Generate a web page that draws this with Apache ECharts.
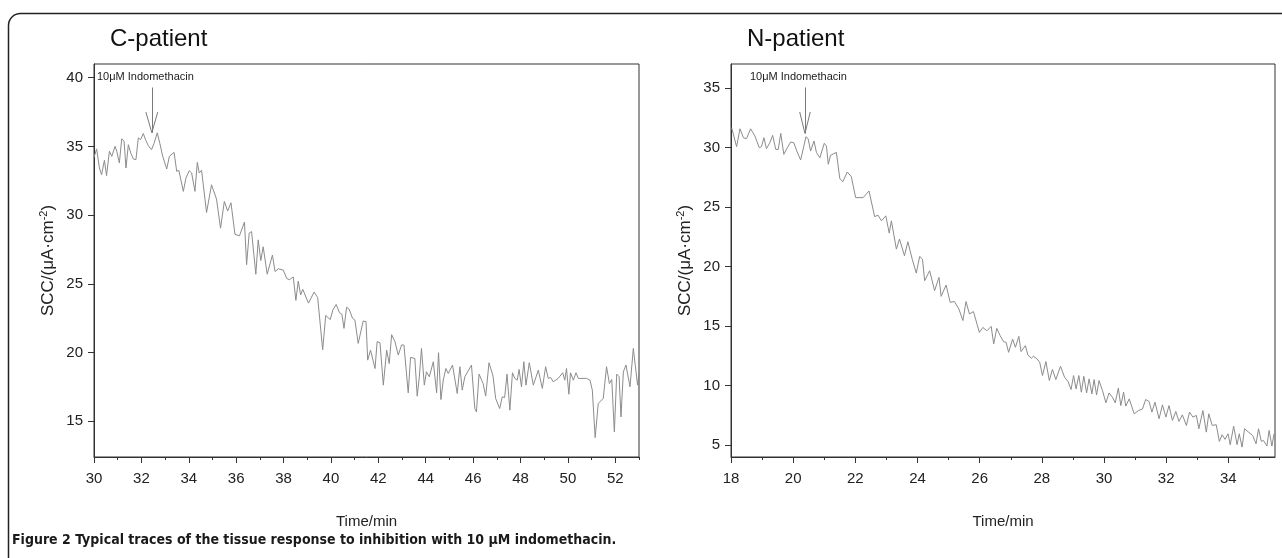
<!DOCTYPE html>
<html>
<head>
<meta charset="utf-8">
<script src="https://cdn.jsdelivr.net/npm/echarts@6/dist/echarts.min.js"></script>
<style>
html,body{margin:0;padding:0;background:#fff;}
#c{width:1282px;height:558px;}
</style>
</head>
<body>
<div id="c"></div>
<script>
// ---- C-patient trace (time in min, SCC in µA·cm^-2) ----
var leftTime = [30.0,30.11,30.23,30.32,30.44,30.53,30.65,30.75,30.89,30.96,31.07,31.17,31.27,31.35,31.45,31.55,31.66,31.77,31.87,31.97,32.08,32.19,32.29,32.43,32.53,32.67,32.78,32.9,32.97,33.07,33.18,33.38,33.49,33.58,33.77,33.88,34.02,34.12,34.26,34.36,34.44,34.54,34.75,34.96,35.17,35.34,35.5,35.64,35.78,35.95,36.14,36.35,36.44,36.55,36.65,36.83,36.93,37.04,37.14,37.31,37.53,37.64,37.78,37.99,38.13,38.24,38.41,38.52,38.62,38.72,38.81,39.05,39.29,39.44,39.65,39.78,39.85,39.97,40.08,40.22,40.36,40.46,40.55,40.66,40.77,40.91,41.01,41.15,41.36,41.48,41.55,41.67,41.86,41.95,42.07,42.21,42.35,42.46,42.56,42.7,42.84,42.98,43.08,43.26,43.36,43.54,43.64,43.73,43.82,43.94,44.03,44.15,44.32,44.46,44.54,44.64,44.74,44.85,44.95,45.13,45.33,45.44,45.54,45.65,45.93,46.07,46.14,46.25,46.42,46.53,46.67,46.84,46.95,47.12,47.23,47.33,47.43,47.55,47.66,47.76,47.86,47.94,48.04,48.14,48.23,48.37,48.54,48.75,48.92,49.06,49.17,49.27,49.38,49.59,49.78,49.87,49.94,50.04,50.11,50.23,50.34,50.44,50.79,50.93,51.03,51.15,51.28,51.49,51.63,51.75,51.85,51.96,52.06,52.16,52.24,52.34,52.45,52.62,52.76,52.94,53.0];
var leftSCC = [34.2,34.82,33.43,32.94,33.99,32.87,34.65,34.28,35.01,34.65,33.8,35.55,35.38,33.43,35.13,34.53,34.09,34.04,35.62,35.5,35.94,35.43,35.06,34.77,35.21,35.99,35.21,34.28,34.4,33.36,34.28,34.57,33.19,33.26,31.73,32.7,33.24,33.07,31.73,33.84,33.07,33.26,30.19,32.21,31.17,29.05,31.0,30.3,30.9,28.6,28.5,29.5,26.4,28.7,28.8,25.7,28.2,26.7,27.7,25.7,27.1,25.9,26.1,26.0,25.4,25.3,25.5,23.8,25.2,24.2,24.6,23.6,24.4,24.0,20.2,22.7,22.8,22.4,23.1,23.5,22.9,22.8,21.76,23.3,23.15,22.5,22.37,20.67,22.3,22.25,19.45,20.18,18.84,20.8,20.72,17.63,20.18,19.2,21.3,20.8,19.82,20.55,20.55,17.07,19.65,19.57,16.83,18.24,20.3,17.63,18.6,18.24,19.33,17.07,19.99,16.58,17.99,18.84,18.48,19.09,17.02,18.97,17.27,18.24,19.09,15.93,15.68,18.43,17.75,16.83,19.26,18.29,16.66,15.93,16.78,16.73,18.43,15.81,18.53,18.12,17.99,18.77,17.51,19.33,17.63,19.26,17.63,18.72,17.39,18.97,18.12,18.19,17.87,18.12,18.53,17.99,18.84,16.97,18.53,17.99,18.53,18.12,18.12,17.99,17.27,13.81,16.29,16.66,18.97,17.75,18.04,14.23,18.43,18.24,15.32,18.6,19.09,17.51,20.3,17.63,18.53];

// ---- N-patient trace ----
var rightTime = [18.02,18.18,18.29,18.4,18.5,18.63,18.77,18.91,18.98,19.06,19.14,19.25,19.34,19.44,19.52,19.6,19.7,19.81,19.92,20.02,20.13,20.24,20.34,20.41,20.48,20.56,20.67,20.75,20.86,21.0,21.07,21.13,21.2,21.39,21.5,21.6,21.74,21.87,22.01,22.25,22.44,22.62,22.73,22.84,22.98,23.09,23.16,23.32,23.42,23.58,23.69,23.83,23.96,24.07,24.16,24.23,24.39,24.55,24.69,24.76,24.92,25.05,25.19,25.33,25.46,25.56,25.67,25.8,25.99,26.1,26.23,26.37,26.45,26.55,26.66,26.77,26.85,26.93,27.06,27.15,27.26,27.33,27.47,27.55,27.66,27.73,27.84,27.93,28.02,28.13,28.24,28.34,28.45,28.6,28.73,28.84,28.94,29.02,29.1,29.19,29.27,29.35,29.44,29.52,29.61,29.68,29.76,29.84,29.95,30.06,30.16,30.27,30.36,30.46,30.54,30.63,30.7,30.81,30.97,31.11,31.24,31.34,31.45,31.54,31.64,31.77,31.88,31.99,32.09,32.2,32.31,32.41,32.52,32.65,32.75,32.86,32.97,33.05,33.18,33.29,33.37,33.48,33.61,33.71,33.8,33.89,33.99,34.06,34.17,34.28,34.35,34.44,34.52,34.65,34.78,34.89,34.97,35.06,35.13,35.24,35.31,35.4,35.47];
var rightSCC = [31.65,30.06,31.56,30.81,30.73,31.56,30.95,29.97,30.06,30.81,29.89,30.39,31.01,29.83,29.83,31.17,29.41,29.97,30.45,30.39,29.61,28.94,30.06,30.89,30.73,29.69,30.53,29.55,29.13,30.34,30.11,28.58,29.33,29.58,27.37,27.12,27.93,27.54,25.78,25.78,26.34,24.19,24.3,23.83,24.25,22.8,23.83,21.45,22.3,20.9,22.07,20.61,19.44,20.84,20.61,18.8,19.64,17.97,19.08,17.49,18.44,16.99,17.05,16.43,15.46,17.05,16.01,16.21,14.46,14.88,14.6,14.97,13.49,14.8,14.18,13.68,13.63,12.79,13.9,13.21,14.13,12.85,13.35,12.57,12.29,12.46,12.24,11.96,10.84,12.01,10.42,11.35,10.5,11.62,10.7,10.34,9.67,10.84,9.72,10.84,9.44,10.78,9.38,10.56,9.3,10.5,9.21,10.42,9.58,8.55,9.38,9.02,8.55,9.78,8.32,9.44,8.27,8.88,7.63,7.9,8.04,8.83,8.66,7.77,8.6,7.21,8.38,7.35,8.32,7.07,7.82,6.99,7.54,6.65,7.77,7.35,7.49,6.37,7.9,6.09,7.63,6.65,6.71,5.31,5.87,5.48,5.95,5.03,6.59,5.03,5.95,4.83,6.37,6.09,5.81,5.11,6.37,5.31,5.39,4.92,6.23,4.92,5.95];

// ---- tick labels ----
var leftXMajor = [30,32,34,36,38,40,42,44,46,48,50,52];
var leftXMinor = [31,33,35,37,39,41,43,45,47,49,51,53];
var leftYTicks = [15,20,25,30,35,40];
var rightXMajor = [18,20,22,24,26,28,30,32,34];
var rightXMinor = [19,21,23,25,27,29,31,33,35];
var rightYTicks = [5,10,15,20,25,30,35];

// ---- annotation: indomethacin addition arrows [time, top, tip] ----
var leftArrow = [32.44, 39.29, 36.0];
var rightArrow = [20.38, 35.03, 31.17];

var FONT = 'Liberation Sans, Arial, Helvetica, sans-serif';
var AX = '#333';

function pairs(t, v){ return t.map(function(x,i){ return [x, v[i]]; }); }

function arrowLines(a, dx, dy){
  return [
    [{coord:[a[0], a[1]]},{coord:[a[0], a[2]]}],
    [{coord:[a[0]-dx, a[2]+dy]},{coord:[a[0], a[2]]}],
    [{coord:[a[0]+dx, a[2]+dy]},{coord:[a[0], a[2]]}]
  ];
}

function majorX(grid, min, max, ticks){
  return {
    gridIndex: grid, type:'value', min:min, max:max, position:'bottom',
    axisLine:{show:true, lineStyle:{color:AX, width:1}},
    axisTick:{show:true, customValues:ticks, length:6, inside:false, lineStyle:{color:AX, width:1}},
    axisLabel:{customValues:ticks, fontSize:15, color:'#222', fontFamily:FONT, margin:14},
    splitLine:{show:false},
    name:'Time/min', nameLocation:'middle', nameGap:57,
    nameTextStyle:{fontSize:15, color:'#222', fontFamily:FONT}
  };
}
function minorX(grid, min, max, ticks){
  return {
    gridIndex: grid, type:'value', min:min, max:max, position:'bottom',
    axisLine:{show:false},
    axisTick:{show:true, customValues:ticks, length:3, inside:false, lineStyle:{color:AX, width:1}},
    axisLabel:{show:false},
    splitLine:{show:false}
  };
}
function yAx(grid, min, max, ticks){
  return {
    gridIndex: grid, type:'value', min:min, max:max,
    axisLine:{show:true, lineStyle:{color:AX, width:1}},
    axisTick:{show:true, customValues:ticks, length:6, inside:false, lineStyle:{color:AX, width:1}},
    axisLabel:{customValues:ticks, fontSize:15, color:'#222', fontFamily:FONT, margin:11},
    splitLine:{show:false},
    name:'SCC/(μA·cm{sup|-2})', nameLocation:'middle', nameGap:36, nameRotate:90,
    nameTextStyle:{fontSize:17, color:'#222', fontFamily:FONT,
      rich:{sup:{fontSize:11, color:'#222', fontFamily:FONT, padding:[0,0,9,0]}}}
  };
}

var chart = echarts.init(document.getElementById('c'), null, {renderer:'canvas'});
chart.setOption({
  animation:false,
  backgroundColor:'#fff',
  title:[
    {text:'C-patient', left:105, top:22, textStyle:{fontSize:24, fontWeight:'normal', color:'#111', fontFamily:FONT}},
    {text:'N-patient', left:742, top:22, textStyle:{fontSize:24, fontWeight:'normal', color:'#111', fontFamily:FONT}}
  ],
  grid:[
    {left:94, top:64, width:545, height:393, show:true, borderColor:AX, borderWidth:1, containLabel:false},
    {left:731, top:64, width:544, height:393, show:true, borderColor:AX, borderWidth:1, containLabel:false}
  ],
  xAxis:[
    majorX(0, 30, 53, leftXMajor),
    minorX(0, 30, 53, leftXMinor),
    majorX(1, 18, 35.5, rightXMajor),
    minorX(1, 18, 35.5, rightXMinor)
  ],
  yAxis:[
    yAx(0, 12.4, 41, leftYTicks),
    yAx(1, 4, 37, rightYTicks)
  ],
  series:[
    {type:'line', xAxisIndex:0, yAxisIndex:0, data:pairs(leftTime, leftSCC),
     showSymbol:false, symbol:'none', lineStyle:{color:'#8c8c8c', width:1}, silent:true,
     markLine:{silent:true, symbol:['none','none'], label:{show:false},
       lineStyle:{color:'#7a7a7a', width:1, type:'solid'}, emphasis:{disabled:true},
       data:arrowLines(leftArrow, 0.25, 1.5)}},
    {type:'line', xAxisIndex:2, yAxisIndex:1, data:pairs(rightTime, rightSCC),
     showSymbol:false, symbol:'none', lineStyle:{color:'#8c8c8c', width:1}, silent:true,
     markLine:{silent:true, symbol:['none','none'], label:{show:false},
       lineStyle:{color:'#7a7a7a', width:1, type:'solid'}, emphasis:{disabled:true},
       data:arrowLines(rightArrow, 0.17, 1.8)}}
  ],
  graphic:[
    {type:'rect', silent:true, z:-1, shape:{x:8.5, y:13.5, width:1300, height:600, r:12},
     style:{fill:'none', stroke:'#222', lineWidth:1.5}},
    {type:'text', left:97, top:71, silent:true,
     style:{text:'10μM Indomethacin', fontSize:11, fill:'#222', fontFamily:FONT}},
    {type:'text', left:750, top:71, silent:true,
     style:{text:'10μM Indomethacin', fontSize:11, fill:'#222', fontFamily:FONT}},
    {type:'text', left:12, top:533, silent:true,
     style:{text:'Figure 2 Typical traces of the tissue response to inhibition with 10 μM indomethacin.',
       fontSize:14, fontWeight:'bold', fill:'#1a1a1a',
       fontFamily:'Liberation Sans Narrow, DejaVu Sans Condensed, Liberation Sans, sans-serif'}}
  ]
});
</script>
</body>
</html>
